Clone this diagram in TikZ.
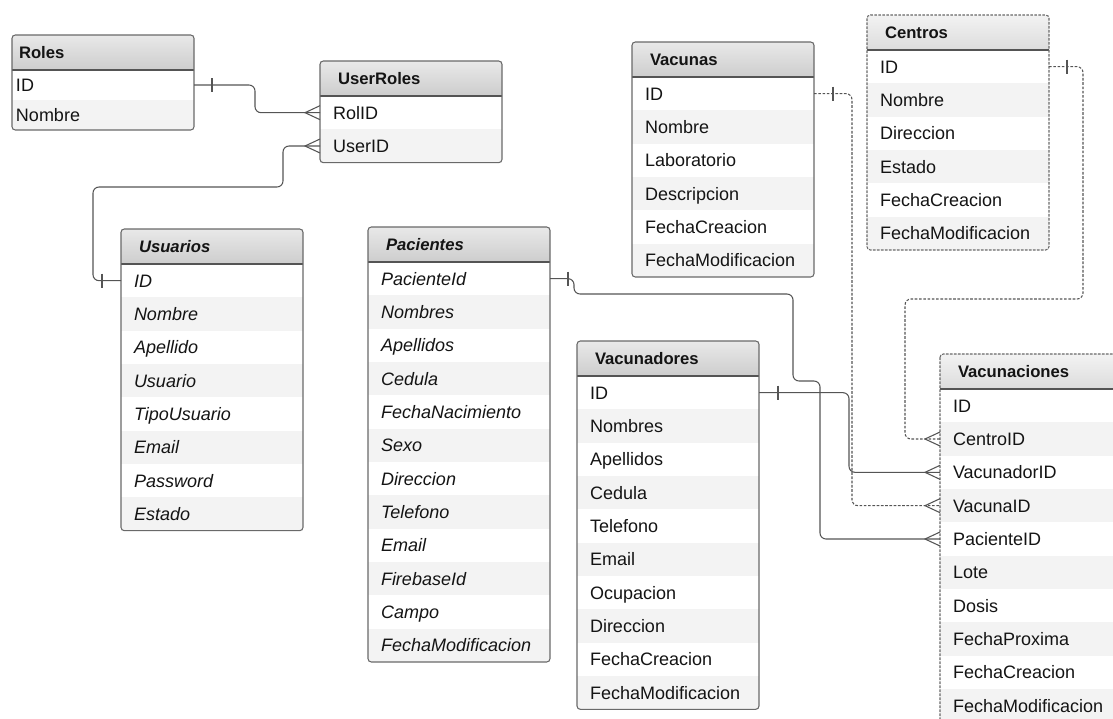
\documentclass[tikz,border=0pt]{standalone}
\usepackage{fontspec}
\setmainfont{Liberation Sans}
\usetikzlibrary{calc}

\definecolor{headgray}{RGB}{205,205,205}
\definecolor{rowgray}{RGB}{243,243,243}
\definecolor{edgegray}{RGB}{105,105,105}
\definecolor{linkgray}{RGB}{85,85,85}
\definecolor{inkdark}{RGB}{20,20,20}

\newcommand{\fieldfont}{\fontsize{13.5}{16}\selectfont}
\newcommand{\titlefont}{\fontsize{12.5}{15}\selectfont\bfseries}

\tikzset{
  erhead/.style={anchor=north west, outer sep=0pt, inner ysep=0pt, inner xsep=13.5pt, text width=109.5pt,
    text height=9pt, text depth=0pt,
    minimum height=26.25pt, align=left, font=\titlefont, text=inkdark, top color=headgray!45!white, bottom color=headgray},
  erfield/.style={anchor=north west, outer sep=0pt, inner ysep=0pt, inner xsep=9.75pt, text width=117pt,
    text height=9.6pt, text depth=0pt,
    minimum height=25pt, align=left, font=\fieldfont, text=inkdark},
  erborder/.style={draw=edgegray, line width=0.8pt, rounded corners=2.5pt},
  erline/.style={draw=edgegray!80!black, line width=1pt},
  italic table/.style={erhead/.append style={font=\titlefont\itshape}, erfield/.append style={font=\fieldfont\itshape}},
  short table/.style={erhead/.append style={inner xsep=5.25pt, text width=126pt},
    erfield/.append style={inner xsep=3pt, text width=130.5pt, minimum height=22.5pt}},
  external table/.style={erborder/.append style={dash pattern=on 2pt off 1pt},
    erhead/.append style={top color=headgray!25!white, bottom color=headgray!70!white}},
  link/.style={draw=linkgray, line width=0.8pt, rounded corners=4.5pt},
  optional link/.style={link, dash pattern=on 2pt off 1.2pt},
}

% table: [options] name, top left corner, title, fields
\newcommand{\ertable}[5][]{%
  \begin{scope}[#1]
    \node[erhead, alias=#2-0] (#2) at (#3) {#4};
    \foreach \f [count=\i] in {#5} {
      \pgfmathtruncatemacro{\prevrow}{\i-1}
      \pgfmathtruncatemacro{\rowtint}{(1-mod(\i,2))*100}
      \node[erfield, fill=rowgray!\rowtint!white] (#2-\i) at (#2-\prevrow.south west) {\f};
      \xdef\erlast{\i}
    }
    \draw[erline] (#2.south west) -- (#2.south east);
    \draw[erborder] (#2.north west) rectangle (#2-\erlast.south east);
  \end{scope}}

% crow's foot on a west side, bar across a link
\newcommand{\crowfoot}[1]{\draw[link, rounded corners=0pt] ($(#1)+(0,-7)$) -- ($(#1)+(-15,0)$) -- ($(#1)+(0,7)$);}
\newcommand{\onebar}[2]{\draw[link] ($(#1)+(#2,-7)$) -- ++(0,14);}

\begin{document}
\begin{tikzpicture}[x=0.75pt,y=0.75pt,yscale=-1,xscale=1]
\useasboundingbox (0,0) rectangle (1113,718);

%Table Roles
\ertable[short table]{roles}{12,35}{Roles}{ID,Nombre}
%Table UserRoles
\ertable{userroles}{320,61}{UserRoles}{RolID,UserID}
%Table Vacunas
\ertable{vacunas}{632,42}{Vacunas}{ID,Nombre,Laboratorio,Descripcion,FechaCreacion,FechaModificacion}
%Table Centros
\ertable[external table]{centros}{867,15}{Centros}{ID,Nombre,Direccion,Estado,FechaCreacion,FechaModificacion}
%Table Usuarios
\ertable[italic table]{usuarios}{121,229}{Usuarios}{ID,Nombre,Apellido,Usuario,TipoUsuario,Email,Password,Estado}
%Table Pacientes
\ertable[italic table]{pacientes}{368,227}{Pacientes}{PacienteId,Nombres,Apellidos,Cedula,FechaNacimiento,Sexo,Direccion,Telefono,Email,FirebaseId,Campo,FechaModificacion}
%Table Vacunadores
\ertable{vacunadores}{577,341}{Vacunadores}{ID,Nombres,Apellidos,Cedula,Telefono,Email,Ocupacion,Direccion,FechaCreacion,FechaModificacion}
%Table Vacunaciones
\ertable[external table]{vacunaciones}{940,354}{Vacunaciones}{ID,CentroID,VacunadorID,VacunaID,PacienteID,Lote,Dosis,FechaProxima,FechaCreacion,FechaModificacion}

%Roles -> UserRoles
\draw[link] (roles-1.east) -- ++(61,0) |- (userroles-1.west);
\onebar{roles-1.east}{18}
\crowfoot{userroles-1.west}
%Usuarios -> UserRoles
\draw[link] (usuarios-1.west) -- ++(-28,0) |- (283,187) |- (userroles-2.west);
\onebar{usuarios-1.west}{-19}
\crowfoot{userroles-2.west}
%Centros -> Vacunaciones
\draw[optional link] (centros-1.east) -- ++(34,0) |- (905,299) |- (vacunaciones-2.west);
\onebar{centros-1.east}{18}
\crowfoot{vacunaciones-2.west}
%Vacunadores -> Vacunaciones
\draw[link] (vacunadores-1.east) -- ++(90,0) |- (vacunaciones-3.west);
\onebar{vacunadores-1.east}{19}
\crowfoot{vacunaciones-3.west}
%Vacunas -> Vacunaciones
\draw[optional link] (vacunas-1.east) -- ++(38,0) |- (vacunaciones-4.west);
\onebar{vacunas-1.east}{19}
\crowfoot{vacunaciones-4.west}
%Pacientes -> Vacunaciones
\draw[link] (pacientes-1.east) -- ++(24,0) |- (793,294) |- (820,381) |- (vacunaciones-5.west);
\onebar{pacientes-1.east}{18}
\crowfoot{vacunaciones-5.west}
\end{tikzpicture}
\end{document}
